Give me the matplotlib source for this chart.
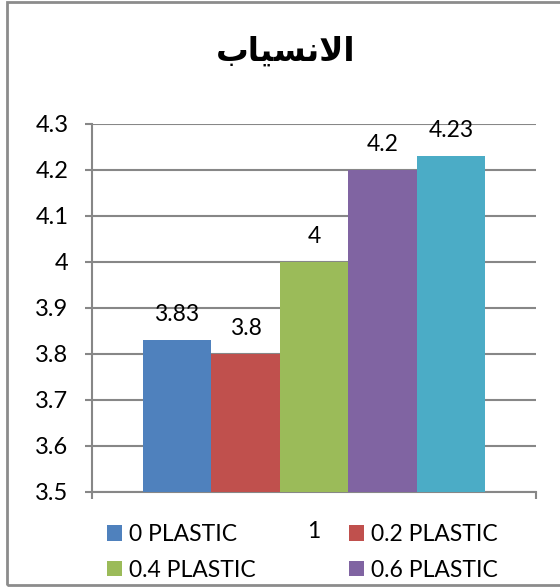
import matplotlib
matplotlib.use("Agg")
import matplotlib.pyplot as plt
from matplotlib.patches import Patch, Rectangle

# Chart data
title_text = "\uFE8F\uFE8E\uFEF4\uFEB4\uFEE7\uFEFB\uFE8D"  # الانسياب (shaped presentation forms)
categories = ["1"]
series_names = ["0 PLASTIC", "0.2 PLASTIC", "0.4 PLASTIC", "0.6 PLASTIC", "0.8 PLASTIC"]
series_values = [3.83, 3.8, 4.0, 4.2, 4.23]
series_labels = ["3.83", "3.8", "4", "4.2", "4.23"]
colors = ["#4F81BD", "#C0504D", "#9BBB59", "#8064A2", "#4BACC6"]
y_ticks = [3.5, 3.6, 3.7, 3.8, 3.9, 4.0, 4.1, 4.2, 4.3]
y_tick_labels = ["3.5", "3.6", "3.7", "3.8", "3.9", "4", "4.1", "4.2", "4.3"]

plt.rcParams["font.family"] = ["Lato", "DejaVu Sans"]
grid_gray = "#878787"
fs = 16.5

fig = plt.figure(figsize=(5.6, 5.88), dpi=100)
ax = fig.add_axes([92 / 560, 1 - 491.7 / 588, 444 / 560, 367.7 / 588])

bar_w = 68.5 / 444
n = len(series_values)
for i, (v, c, lab) in enumerate(zip(series_values, colors, series_labels)):
    xc = (i - (n - 1) / 2) * bar_w
    ax.bar(xc, v - 3.5, bottom=3.5, width=bar_w, color=c, zorder=3)
    ax.annotate(lab, (xc, v), xytext=(0, 13.5), textcoords="offset points",
                ha="center", va="baseline", fontsize=fs, color="#000000")

ax.set_xlim(-0.5, 0.5)
ax.set_ylim(3.5, 4.3)
ax.set_yticks(y_ticks)
ax.set_yticklabels(y_tick_labels)
ax.yaxis.grid(True, color=grid_gray, linewidth=1.5, zorder=0)
ax.set_axisbelow(True)

ax.set_xticks([0])
ax.set_xticklabels(categories)
ax.set_xticks([-0.5, 0.5], minor=True)
ax.tick_params(axis="x", which="major", length=0, pad=21, labelsize=fs)
ax.tick_params(axis="x", which="minor", length=5, width=1.5, color=grid_gray, direction="out")
ax.tick_params(axis="y", length=5, width=1.5, color=grid_gray, pad=12, labelsize=17)

for side in ["top", "right"]:
    ax.spines[side].set_visible(False)
for side in ["left", "bottom"]:
    ax.spines[side].set_color(grid_gray)
    ax.spines[side].set_linewidth(1.5)

fig.text(286 / 560, 1 - 51 / 588, title_text, ha="center", va="center",
         fontsize=23.5, fontweight="bold", family="DejaVu Sans")

# Legend: first four series, laid out in two rows
order = [0, 2, 1, 3]
handles = [Patch(facecolor=colors[k], edgecolor="none") for k in order]
labels = [series_names[k] for k in order]
fig.legend(handles, labels, ncol=2, loc="upper left",
           bbox_to_anchor=(107 / 560, 1 - 524 / 588), frameon=False,
           fontsize=fs, handlelength=0.65, handleheight=0.65,
           handletextpad=0.3, columnspacing=4.1, labelspacing=0.65,
           borderaxespad=0, borderpad=0)

# Outer chart frame (right edge runs past the image)
fig.patches.append(Rectangle((7 / 560, 3 / 588), 1.2, 1 - 5 / 588,
                             transform=fig.transFigure, fill=False,
                             edgecolor="#8c8c8c", linewidth=2, clip_on=False))

fig.savefig("out.png", dpi=100)
